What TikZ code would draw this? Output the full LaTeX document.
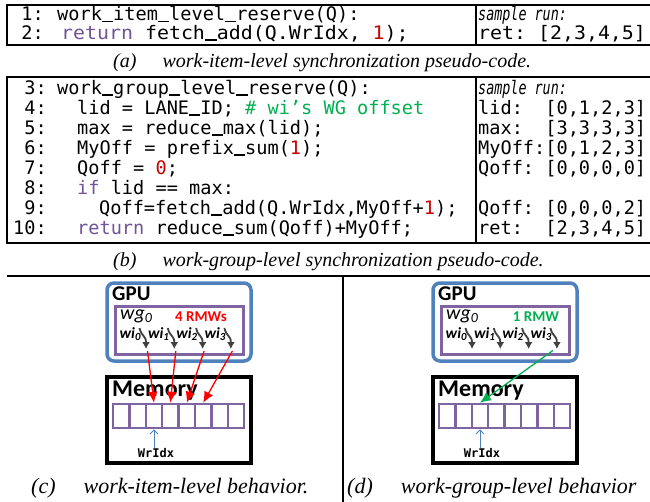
\documentclass[tikz,border=0pt]{standalone}
\usepackage{fontspec}
\usepackage{graphicx}
\usetikzlibrary{arrows.meta}
\setmainfont{Liberation Serif}
\newfontfamily\codefont{DejaVu Sans Mono}
\newfontfamily\lblfont{Carlito}
\definecolor{kwpurple}{RGB}{112,84,150}
\definecolor{litred}{RGB}{200,0,0}
\definecolor{cmtgreen}{RGB}{0,176,80}
\definecolor{gpublue}{RGB}{79,129,189}
\definecolor{wgpurple}{RGB}{128,100,162}
\definecolor{wigray}{RGB}{64,64,64}
\newcommand{\kw}[1]{\textcolor{kwpurple}{#1}}
\newcommand{\lit}[1]{\textcolor{litred}{#1}}
\newcommand{\cmt}[1]{\textcolor{cmtgreen}{#1}}
\newcommand{\us}{\rule[-0.09em]{0.602em}{0.08em}}

\begin{document}
\begin{tikzpicture}[x=1pt,y=-1pt,
    boxframe/.style={line width=2.4pt},
    lnum/.style={anchor=base east,inner sep=0pt,font=\codefont\fontsize{18.6}{20}\selectfont},
    codetxt/.style={anchor=base west,inner sep=0pt,font=\codefont\fontsize{18.6}{20}\selectfont},
    captxt/.style={anchor=base west,inner sep=0pt,font=\itshape\fontsize{20}{24}\selectfont},
    lbl/.style={anchor=base west,inner sep=0pt},
    cellbox/.style={draw=wgpurple,line width=2.5pt,minimum width=16.4pt,minimum height=24pt,inner sep=0pt},
    wiarrow/.style={wigray,line width=1.8pt,-{Latex[length=7pt,width=8pt]}},
    rmw/.style={line width=1.3pt,-{Latex[length=11pt,width=10pt]}},
  ]
  \useasboundingbox (0,0) rectangle (650,501);

  % (a) work-item-level code
  \draw[boxframe] (7,5) rectangle (653,45);
  \draw[line width=2pt] (476,5) -- (476,45);
  \node[lnum] (na1) at (44,20.7) {1:};
  \node[lnum] (na2) at (44,39) {2:};
  \node[codetxt] (ca1) at (57,20.7) {work\us item\us level\us reserve(Q):};
  \node[codetxt] (ca2) at (61,39) {\scalebox{1.07}[1]{\kw{return} fetch\us add(Q.WrIdx, \lit{1});}};
  \node[codetxt] (ra1) at (478,20.7) {\scalebox{0.72}[1]{\itshape sample run:}};
  \node[codetxt] (ra2) at (478,39) {\scalebox{1.07}[1]{ret:~[2,3,4,5]}};
  \node[captxt] (capa) at (113,67) {(a)\hspace{26pt}work-item-level synchronization pseudo-code.};

  % (b) work-group-level code
  \draw[boxframe] (7,77) rectangle (653,243);
  \draw[line width=2pt] (476,77) -- (476,243);
  \foreach \n [count=\k from 0] in {3,...,10}
    \node[lnum] (nb\n) at (47,94+20*\k) {\n:};
  \node[codetxt] (cb3) at (57,94) {work\us group\us level\us reserve(Q):};
  \node[codetxt] (cb4) at (77,114) {lid = LANE\us ID; \cmt{\# wi’s WG offset}};
  \node[codetxt] (cb5) at (77,134) {max = reduce\us max(lid);};
  \node[codetxt] (cb6) at (77,154) {MyOff = prefix\us sum(\lit{1});};
  \node[codetxt] (cb7) at (77,174) {Qoff = \lit{0};};
  \node[codetxt] (cb8) at (77,194) {\kw{if} lid == max:};
  \node[codetxt] (cb9) at (99,214) {Qoff=fetch\us add(Q.WrIdx,MyOff+\lit{1});};
  \node[codetxt] (cb10) at (77,234) {\kw{return} reduce\us sum(Qoff)+MyOff;};
  \node[codetxt] (rb3) at (478,94) {\scalebox{0.72}[1]{\itshape sample run:}};
  \node[codetxt] (rb4) at (478,114) {lid:~~[0,1,2,3]};
  \node[codetxt] (rb5) at (478,134) {max:~~[3,3,3,3]};
  \node[codetxt] (rb6) at (478,154) {MyOff:[0,1,2,3]};
  \node[codetxt] (rb7) at (478,174) {Qoff:~[0,0,0,0]};
  \node[codetxt] (rb9) at (478,214) {Qoff:~[0,0,0,2]};
  \node[codetxt] (rb10) at (478,234) {ret:~~[2,3,4,5]};
  \node[captxt] (capb) at (113,266) {(b)\hspace{26pt}work-group-level synchronization pseudo-code.};

  % separators
  \draw[boxframe] (7,276) -- (653,276);
  \draw[line width=2pt] (343,276) -- (343,503);

  % (c) and (d) GPU / memory panels
  \foreach \pn/\ox in {c/0,d/326}{
    \begin{scope}[xshift=\ox]
      \draw[gpublue,line width=3.5pt,rounded corners=7pt] (107,283) rectangle (251,361);
      \draw[wgpurple,line width=3pt] (115,306) rectangle (243,354);
      \draw[line width=3.5pt] (107,377) rectangle (251,463);
      \node[lbl,text depth=0pt,font=\lblfont\bfseries\fontsize{21}{24}\selectfont] (\pn gpu) at (112,300.5) {GPU};
      \node[lbl,text height=9pt,font=\lblfont\itshape\fontsize{20}{24}\selectfont] (\pn wg) at (120,319) {wg\textsubscript{0}};
      \node[lbl,font=\lblfont\bfseries\fontsize{24}{26}\selectfont] (\pn mem) at (112,396) {Memory};
      \foreach \i in {1,...,8}
        \node[cellbox] (\pn cell\i) at (113+16.4*\i-8.2,416) {};
      \foreach \k in {0,...,3}{
        \node[lbl,font=\lblfont\bfseries\itshape\fontsize{15.5}{18}\selectfont] (\pn wi\k) at (119.5+28.3*\k,338.5) {wi\textsubscript{\k}};
        \coordinate (\pn tip\k) at (146+28.3*\k,349);
        \draw[wiarrow] (139.5+28.3*\k,328) .. controls (141.5+28.3*\k,337) and (146+28.3*\k,335) .. (\pn tip\k);
      }
      \node[anchor=base,inner sep=0pt,font=\codefont\bfseries\fontsize{12}{14}\selectfont] (\pn idx) at (156,457) {WrIdx};
      \draw[gpublue,line width=1pt,-{Straight Barb[length=4pt]}] (\pn idx.north -| \pn cell3) -- (\pn cell3.south);
    \end{scope}
  }
  \node[anchor=base,inner sep=0pt,font=\lblfont\bfseries\fontsize{15}{18}\selectfont,text=red] (crmw) at (201,321) {4 RMWs};
  \node[anchor=base,inner sep=0pt,font=\lblfont\bfseries\fontsize{15}{18}\selectfont,text=cmtgreen] (drmw) at (536,321) {1 RMW};
  \foreach \k/\c in {0/3,1/4,2/5,3/6}
    \draw[rmw,red] ([shift={(1.5,2)}]ctip\k) -- (ccell\c.north);
  \draw[rmw,cmtgreen] ([shift={(-4,1.5)}]dtip3) -- (dcell3.north);

  \node[captxt,font=\itshape\fontsize{22}{24}\selectfont] (capc) at (31,493) {(c)\hspace{28pt}work-item-level behavior.};
  \node[captxt,font=\itshape\fontsize{22}{24}\selectfont] (capd) at (347,493) {(d)\hspace{28pt}work-group-level behavior};
\end{tikzpicture}
\end{document}
